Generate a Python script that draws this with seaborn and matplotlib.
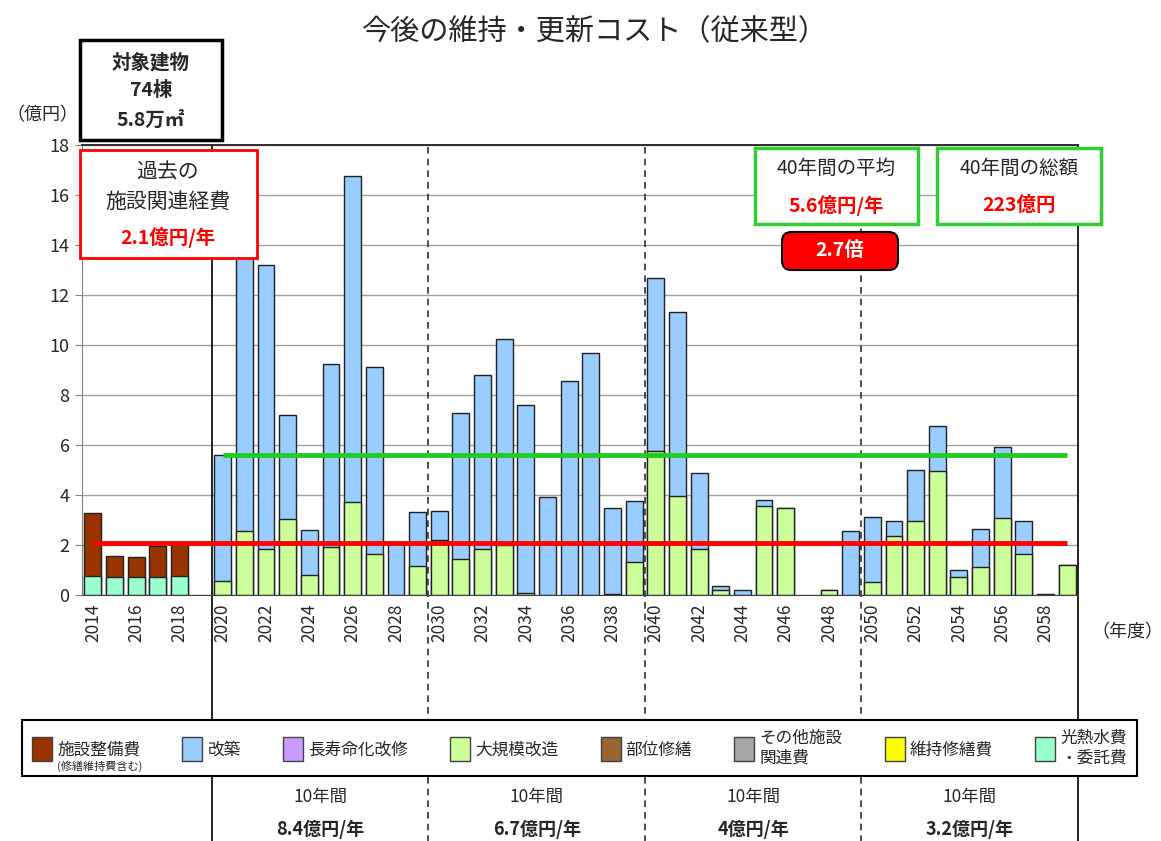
import numpy as np
import pandas as pd
import matplotlib.pyplot as plt
import matplotlib.patches as mpatches
import matplotlib.transforms as mtrans
import seaborn as sns

#years on the axis (2019 is an empty slot)
years = list(range(2014, 2060))
past_years = list(range(2014, 2019))
future_years = list(range(2020, 2060))

#past costs (億円)
facility = [2.53, 0.84, 0.81, 1.24, 1.34]      # 施設整備費
utilities = [0.76, 0.72, 0.72, 0.72, 0.76]     # 光熱水費・委託費

#future costs (億円)
rebuild = [5.06, 12.22, 11.35, 4.17, 1.82, 7.32, 13.06, 7.46, 2.05, 2.16,
           1.14, 5.82, 6.95, 8.25, 7.50, 3.91, 8.57, 9.69, 3.44, 2.42,
           6.92, 7.37, 3.03, 0.18, 0.19, 0.24, 0.00, 0.00, 0.00, 2.58,
           2.62, 0.58, 2.04, 1.77, 0.27, 1.54, 2.82, 1.31, 0.05, 0.00]   # 改築
major = [0.56, 2.58, 1.86, 3.05, 0.80, 1.92, 3.72, 1.65, 0.00, 1.16,
         2.22, 1.46, 1.86, 2.00, 0.09, 0.00, 0.00, 0.00, 0.05, 1.33,
         5.78, 3.95, 1.86, 0.19, 0.00, 3.58, 3.49, 0.00, 0.20, 0.00,
         0.52, 2.38, 2.96, 4.98, 0.72, 1.12, 3.09, 1.65, 0.00, 1.22]     # 大規模改造

past_avg = 2.1
future_avg = 5.6
decade_avg = ['8.4億円/年', '6.7億円/年', '4億円/年', '3.2億円/年']

legend_labels = ['施設整備費', '改築', '長寿命化改修', '大規模改造', '部位修繕',
                 'その他施設\n関連費', '維持修繕費', '光熱水費\n・委託費']
legend_colors = ['#993300', '#99CCFF', '#CC99FF', '#CCFF99', '#996633',
                 '#A6A6A6', '#FFFF00', '#99FFCC']

#build table for seaborn
fac = dict(zip(past_years, facility))
utl = dict(zip(past_years, utilities))
reb = dict(zip(future_years, rebuild))
maj = dict(zip(future_years, major))

df = pd.DataFrame({'year': [str(y) for y in years]})
df['past_top'] = [fac[y] + utl[y] if y in fac else np.nan for y in years]
df['past_bottom'] = [utl[y] if y in utl else np.nan for y in years]
df['fut_top'] = [reb[y] + maj[y] if y in reb and reb[y] + maj[y] > 0 else np.nan for y in years]
df['fut_bottom'] = [maj[y] if maj.get(y, 0) > 0 else np.nan for y in years]

sns.set_style('white')
plt.rcParams['font.family'] = ['Noto Sans CJK JP', 'DejaVu Sans']

W, H = 1161, 841
def fx(p):
    return p / W
def fy(p):
    return 1 - p / H

fig = plt.figure(figsize=(11.61, 8.41), dpi=100)
ax = fig.add_axes([fx(82), fy(595), (1078 - 82) / W, (595 - 145) / H])

#stacked bars: draw totals, then the lower part over them
order = df['year'].tolist()
for col, c in [('past_top', '#993300'), ('past_bottom', '#99FFCC'),
               ('fut_top', '#99CCFF'), ('fut_bottom', '#CCFF99')]:
    sns.barplot(data=df, x='year', y=col, order=order, color=c, saturation=1,
                edgecolor='#202020', linewidth=1, width=0.78, errorbar=None, ax=ax)

#average lines
ax.hlines(past_avg, years.index(2014), years.index(2059), color='#FF0000', lw=3.5, zorder=5)
ax.hlines(future_avg, years.index(2020), years.index(2059), color='#22CC22', lw=3.5, zorder=5)

#axes styling
ax.set_ylim(0, 18)
ax.set_yticks(range(0, 19, 2))
ax.yaxis.grid(True, color='#A0A0A0', lw=1)
ax.set_axisbelow(True)
ax.set_xlabel('')
ax.set_ylabel('')
ax.set_xticks(range(len(years)))
ax.set_xticklabels([str(y) if y % 2 == 0 else '' for y in years], rotation=90, fontsize=12.5)
ax.set_xticks(np.arange(-0.5, len(years), 1), minor=True)
ax.tick_params(axis='x', which='major', length=0, pad=6)
ax.tick_params(axis='x', which='minor', length=5, color='#808080', direction='out')
ax.tick_params(axis='y', length=5, color='#808080', labelsize=13, pad=4, left=True)
ax.spines['left'].set_color('#808080')
ax.spines['bottom'].set_color('#404040')
ax.spines['top'].set_color('#202020')
ax.spines['top'].set_linewidth(1.3)
ax.spines['right'].set_visible(False)

#period separators reaching down to the bottom
ax.axvline(years.index(2020) - 0.5, ymin=-0.55, ymax=1, color='black', lw=1.2, clip_on=False)
ax.axvline(len(years) - 0.5, ymin=-0.55, ymax=1, color='black', lw=1.2, clip_on=False)
for y0 in (2030, 2040, 2050):
    ax.axvline(years.index(y0) - 0.5, ymin=-0.55, ymax=1, color='#303030', lw=1.2,
               ls=(0, (4, 3)), clip_on=False)
ax.set_xlim(-0.5, len(years) - 0.5)

#decade averages below the legend
trans = mtrans.blended_transform_factory(ax.transData, fig.transFigure)
for k, lab in enumerate(decade_avg):
    xc = years.index(2020 + 10 * k) + 4.5
    ax.text(xc, fy(797), '10年間', transform=trans, ha='center', va='center', fontsize=12.5)
    ax.text(xc, fy(829), lab, transform=trans, ha='center', va='center', fontsize=13, fontweight='bold')

#title and unit labels
fig.text(fx(595), fy(32), '今後の維持・更新コスト（従来型）', ha='center', va='center', fontsize=21)
fig.text(fx(42), fy(115), '（億円）', ha='center', va='center', fontsize=13)
fig.text(fx(1127), fy(632), '（年度）', ha='center', va='center', fontsize=13)

#info boxes
fig.add_artist(mpatches.Rectangle((fx(80), fy(140)), (222 - 80) / W, 100 / H, transform=fig.transFigure,
                                  fc='white', ec='black', lw=2.5, zorder=3))
fig.text(fx(151), fy(63), '対象建物', ha='center', va='center', fontsize=14, fontweight='bold', zorder=4)
fig.text(fx(151), fy(90), '74棟', ha='center', va='center', fontsize=14, fontweight='bold', zorder=4)
fig.text(fx(151), fy(120), '5.8万㎡', ha='center', va='center', fontsize=14, fontweight='bold', zorder=4)

fig.add_artist(mpatches.Rectangle((fx(80), fy(258)), (257 - 80) / W, 108 / H, transform=fig.transFigure,
                                  fc='white', ec='#FF0000', lw=2, zorder=3))
fig.text(fx(168), fy(172), '過去の', ha='center', va='center', fontsize=15, zorder=4)
fig.text(fx(168), fy(202), '施設関連経費', ha='center', va='center', fontsize=15, zorder=4)
fig.text(fx(168), fy(238), '2.1億円/年', ha='center', va='center', fontsize=14, fontweight='bold',
         color='#FF0000', zorder=4)

fig.add_artist(mpatches.Rectangle((fx(755), fy(224)), (918 - 755) / W, 76 / H, transform=fig.transFigure,
                                  fc='white', ec='#33CC33', lw=2.5, zorder=3))
fig.text(fx(836), fy(168), '40年間の平均', ha='center', va='center', fontsize=14, zorder=4)
fig.text(fx(836), fy(205), '5.6億円/年', ha='center', va='center', fontsize=14, fontweight='bold',
         color='#FF0000', zorder=4)

fig.add_artist(mpatches.Rectangle((fx(937), fy(224)), (1101 - 937) / W, 76 / H, transform=fig.transFigure,
                                  fc='white', ec='#33CC33', lw=2.5, zorder=3))
fig.text(fx(1019), fy(168), '40年間の総額', ha='center', va='center', fontsize=14, zorder=4)
fig.text(fx(1019), fy(205), '223億円', ha='center', va='center', fontsize=14, fontweight='bold',
         color='#FF0000', zorder=4)

fig.add_artist(mpatches.FancyBboxPatch((fx(782), fy(270)), (898 - 782) / W, 38 / H,
                                       boxstyle='round,pad=0,rounding_size=0.008', mutation_aspect=W / H,
                                       transform=fig.transFigure, fc='#FF0000', ec='black', lw=1.5, zorder=3))
fig.text(fx(840), fy(251), '2.7倍', ha='center', va='center', fontsize=14, fontweight='bold',
         color='white', zorder=4)

#legend
handles = [mpatches.Patch(fc=c, ec='#404040', lw=1, label=l) for c, l in zip(legend_colors, legend_labels)]
leg = fig.legend(handles=handles, loc='center', bbox_to_anchor=(fx(22), fy(778), (1137 - 22) / W, 60 / H),
                 mode='expand', ncol=8, fontsize=12, frameon=True, fancybox=False, edgecolor='black',
                 framealpha=1, handlelength=1.2, handleheight=1.8, handletextpad=0.3,
                 borderpad=0.6, borderaxespad=0)
leg.get_frame().set_linewidth(1.5)

#small note under the first legend label
fig.canvas.draw()
bb = leg.get_texts()[0].get_window_extent()
fig.text(bb.x0 / fig.bbox.width, bb.y0 / fig.bbox.height - 0.002, '(修繕維持費含む)', ha='left', va='top',
         fontsize=8, zorder=6)

plt.savefig('out.png', dpi=100)
